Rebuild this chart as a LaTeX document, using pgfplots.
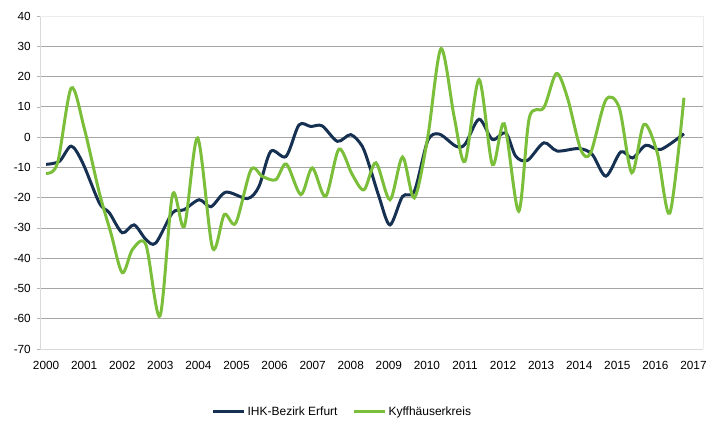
\documentclass[border=0pt]{standalone}
\usepackage{pgfplots}
\pgfplotsset{compat=1.18}
\usepackage{fontspec}
\setmainfont{Liberation Sans}
\definecolor{ihk}{RGB}{22,48,82}
\definecolor{kyf}{RGB}{122,190,58}
\begin{document}
\begin{tikzpicture}
\useasboundingbox (-40pt,-76pt) rectangle (684pt,349pt);
\begin{axis}[
  at={(0pt,0pt)}, anchor=south west,
  scale only axis, width=663pt, height=333pt,
  xmin=1999.84, xmax=2017.25,
  ymin=-70, ymax=40,
  xtick={2000,2001,...,2017},
  ytick={-70,-60,...,40},
  xticklabel style={/pgf/number format/1000 sep={}},
  /pgf/number format/assume math mode=true,
  tick label style={font=\fontsize{11.8}{13}\selectfont, inner sep=0pt},
  xticklabel style={anchor=north, yshift=-9pt},
  yticklabel style={anchor=east, xshift=-6pt},
  ymajorgrids, major grid style={gray!70, line width=0.8pt},
  x tick style={draw=none},
  y tick style={gray!60, line width=0.6pt},
  tick align=outside, major tick length=3pt,
  axis line style={gray!30, line width=0.6pt},
  axis x line*=bottom, axis y line*=left,
  clip=false,
  legend columns=2,
  legend style={at={(0.456,-0.189)}, anchor=center, draw=none, fill=none,
    font=\fontsize{12}{13}\selectfont, inner sep=0pt,
    /tikz/every even column/.append style={column sep=13pt}},
  legend image code/.code={\draw[#1] (0pt,0pt) -- (31pt,0pt);},
  legend cell align=left,
]
\draw[gray!15, line width=0.6pt] (axis cs:1999.84,40) -- (axis cs:2017.25,40) -- (axis cs:2017.25,-70);
\addplot[ihk, line width=3pt, smooth, tension=0.5] coordinates {
(2000.0,-9) (2000.35,-8) (2000.66,-3) (2000.96,-8.5) (2001.4,-21.8) (2001.66,-25)
(2002.0,-31.6) (2002.31,-29) (2002.62,-33.8) (2002.88,-35) (2003.32,-25) (2003.62,-24)
(2004.02,-20.7) (2004.33,-23) (2004.72,-18.2) (2005.29,-20.3) (2005.59,-16.3) (2005.9,-4.7)
(2006.3,-6.4) (2006.64,4) (2006.95,3.5) (2007.25,3.7) (2007.65,-1.4) (2008.0,0.8)
(2008.3,-3) (2008.49,-9.5) (2008.75,-20) (2009.03,-29) (2009.36,-19.6) (2009.67,-17.9)
(2010.02,-1.3) (2010.32,1) (2010.76,-3) (2011.0,-2.4) (2011.37,5.9) (2011.72,-0.8)
(2012.07,1.4) (2012.33,-6.3) (2012.64,-7.7) (2013.07,-1.9) (2013.42,-4.6) (2013.99,-3.8)
(2014.34,-5.7) (2014.7,-12.9) (2015.09,-4.9) (2015.4,-6.9) (2015.75,-2.7) (2016.14,-4.1)
(2016.75,1.1)
};
\addlegendentry{IHK-Bezirk Erfurt}
\addplot[kyf, line width=3pt, smooth, tension=0.5] coordinates {
(2000.0,-12) (2000.3,-8.6) (2000.66,16.2) (2001.0,3) (2001.4,-18.5) (2001.7,-31.6)
(2002.0,-44.8) (2002.27,-37.1) (2002.62,-35.5) (2002.99,-59.1) (2003.32,-19) (2003.63,-29.5)
(2003.98,-0.3) (2004.37,-36.6) (2004.68,-25.6) (2004.98,-28.4) (2005.38,-10.8) (2005.68,-13)
(2006.03,-14.1) (2006.31,-8.9) (2006.69,-19) (2006.99,-10.2) (2007.34,-19.6) (2007.69,-4)
(2008.04,-12.4) (2008.35,-17.4) (2008.66,-8.5) (2009.03,-20.7) (2009.36,-6.6) (2009.67,-20.1)
(2010.02,-0.2) (2010.37,29.2) (2010.72,6.4) (2011.0,-8) (2011.37,19) (2011.72,-9.1)
(2012.03,4.4) (2012.41,-24.5) (2012.69,6.4) (2013.07,9.7) (2013.4,21) (2013.69,13)
(2014.04,-4.1) (2014.3,-5.2) (2014.7,12.3) (2015.05,9.7) (2015.38,-11.8) (2015.7,4.2)
(2016.05,-5.2) (2016.38,-25.1) (2016.75,13)
};
\addlegendentry{Kyffhäuserkreis}
\end{axis}
\end{tikzpicture}
\end{document}
